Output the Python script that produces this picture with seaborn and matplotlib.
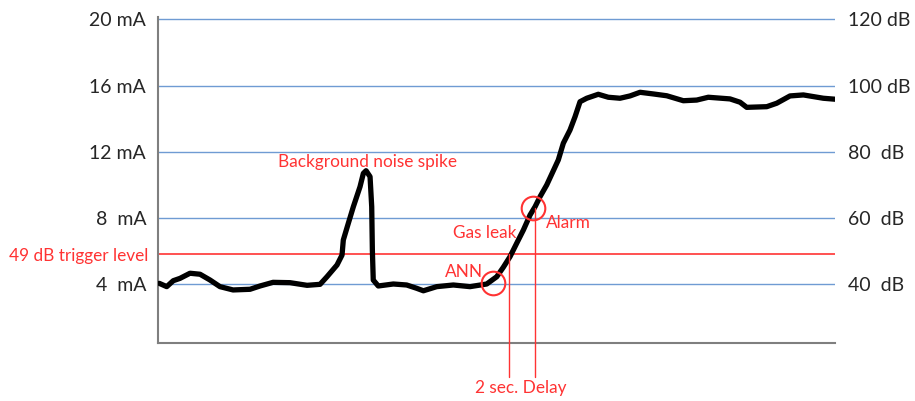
import matplotlib
matplotlib.use("Agg")
import matplotlib.pyplot as plt
import matplotlib.transforms as mtransforms
import seaborn as sns
import pandas as pd

# signal trace, time in seconds, current in mA
t = [0.1, 0.68, 1.19, 1.71, 2.49, 3.27, 4.05, 4.82, 5.84, 7.16, 7.94, 8.95, 10.27, 11.6,
     12.61, 13.15, 13.93, 14.32, 14.42, 14.81, 15.2, 15.72, 15.98, 16.19, 16.5, 16.63,
     16.68, 16.75, 17.14, 18.31, 19.35, 20.13, 20.65, 21.69, 22.98, 24.28, 25.58, 26.36,
     26.87, 27.39, 27.91, 28.43, 28.95, 29.34, 29.73, 30.25, 31.15, 31.54, 32.06, 32.45,
     32.84, 33.36, 34.26, 35.04, 35.95, 36.73, 37.51, 38.54, 39.59, 40.88, 41.92, 42.82,
     44.51, 45.29, 45.81, 47.37, 48.15, 49.18, 50.22, 51.77, 52.7]
ma = [4.04, 3.84, 4.2, 4.34, 4.65, 4.59, 4.24, 3.84, 3.64, 3.68, 3.88, 4.1, 4.08, 3.92,
      3.98, 4.44, 5.15, 5.75, 6.66, 7.67, 8.67, 9.88, 10.69, 10.85, 10.49, 8.67,
      6.06, 4.24, 3.88, 4.0, 3.94, 3.74, 3.59, 3.84, 3.94, 3.84, 4.0, 4.44,
      5.01, 5.65, 6.46, 7.26, 8.17, 8.67, 9.28, 9.99, 11.5, 12.51, 13.31, 14.11,
      15.02, 15.23, 15.47, 15.29, 15.23, 15.37, 15.59, 15.49, 15.38, 15.08, 15.12, 15.29,
      15.19, 14.99, 14.68, 14.72, 14.93, 15.37, 15.43, 15.23, 15.17]

left_ticks = [4, 8, 12, 16, 20]
left_labels = ["4  mA", "8  mA", "12 mA", "16 mA", "20 mA"]
right_ticks = [40, 60, 80, 100, 120]
right_labels = ["40  dB", "60  dB", "80  dB", "100 dB", "120 dB"]

trigger_db = 49
trigger_ma = 4 + (trigger_db - 40) / 20 * 4
ann_t, ann_ma = 26.03, 4.08
alarm_t, alarm_ma = 29.2, 8.6
delay_start, delay_end = 27.34, 29.34

RED = "#ff3333"
BLUE = "#6f9bd3"
GREY = "#7f7f7f"
TXT = "#262626"

sns.set_theme(style="white")
plt.rcParams["font.family"] = ["Lato", "DejaVu Sans"]

fig = plt.figure(figsize=(9.15, 4.01), dpi=100)
ax = fig.add_axes([158 / 915, (401 - 343) / 401, (835 - 158) / 915, (343 - 16.7) / 401])

ax.set_xlim(0, 52.68)
ax.set_ylim(0.433, 20.16)

ax.set_yticks(left_ticks)
ax.set_yticklabels(left_labels)
ax.set_xticks([])
ax.tick_params(axis="y", length=0, pad=8.5, labelsize=14, labelcolor=TXT)
ax.grid(axis="y", color=BLUE, lw=1.0)
ax.set_axisbelow(True)
for s in ["top", "right"]:
    ax.spines[s].set_visible(False)
for s in ["left", "bottom"]:
    ax.spines[s].set_color(GREY)
    ax.spines[s].set_linewidth(1.5)

# trigger level
ax.axhline(trigger_ma, color=RED, lw=1.2, zorder=2)

df = pd.DataFrame({"t": t, "ma": ma})
sns.lineplot(data=df, x="t", y="ma", estimator=None, color="black", lw=3.8, ax=ax,
             solid_capstyle="round", solid_joinstyle="round", zorder=3)
ax.set_xlabel("")
ax.set_ylabel("")

# delay markers
ax.plot([delay_start, delay_start], [trigger_ma, -1.6], color=RED, lw=1.0, clip_on=False, zorder=4)
ax.plot([delay_end, delay_end], [alarm_ma, -1.6], color=RED, lw=1.0, clip_on=False, zorder=4)
ax.plot([ann_t, alarm_t], [ann_ma, alarm_ma], ls="none", marker="o", ms=17, mfc="none",
        mec=RED, mew=1.5, zorder=5)

# annotations
fs = 12.4
tr = mtransforms.blended_transform_factory(ax.transAxes, ax.transData)
ax.text(-0.0148, trigger_ma - 0.1, "49 dB trigger level", transform=tr, ha="right",
        va="center", color=RED, fontsize=fs)
ax.text(16.3, 11.39, "Background noise spike", ha="center", va="center", color=RED, fontsize=fs)
ax.text(25.45, 7.08, "Gas leak", ha="center", va="center", color=RED, fontsize=fs)
ax.text(30.19, 7.71, "Alarm", ha="left", va="center", color=RED, fontsize=fs)
ax.text(23.8, 4.74, "ANN", ha="center", va="center", color=RED, fontsize=fs)
ax.text(28.25, -2.31, "2 sec. Delay", ha="center", va="center", color=RED, fontsize=fs)

# right dB scale
ax2 = ax.twinx()
ax2.set_ylim(0.433 * 5 + 20, 20.16 * 5 + 20)
ax2.set_yticks(right_ticks)
ax2.set_yticklabels(right_labels)
ax2.tick_params(axis="y", length=0, pad=9.4, labelsize=14, labelcolor=TXT)
ax2.grid(False)
for s in ax2.spines.values():
    s.set_visible(False)

fig.savefig("out.png", dpi=100)
